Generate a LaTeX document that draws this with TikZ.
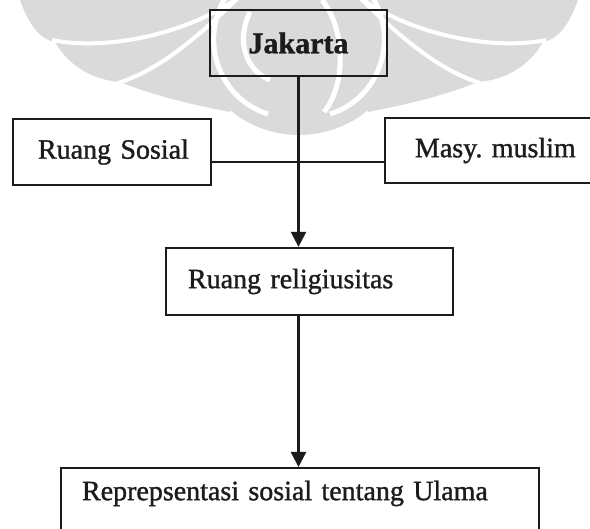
\documentclass[tikz,border=0pt]{standalone}
\usepackage{fontspec}
\setmainfont{Liberation Serif}[WordSpace=0.75, FakeBold=1.2]
\usetikzlibrary{arrows.meta}
\definecolor{wmgray}{RGB}{218,218,218}
\definecolor{ink}{RGB}{28,28,28}
\frenchspacing

% one wing of the faint emblem in the background
\newcommand\makarawing{%
  \fill[wmgray] (20,0) .. controls (30,28) and (42,40) .. (55,42)
    .. controls (70,68) and (95,80) .. (120,82)
    .. controls (160,98) and (200,106) .. (230,112) -- (245,0) -- cycle;
  \draw[white, line width=4pt] (52,40) .. controls (100,50) and (180,38) .. (238,-2);
  \draw[white, line width=4pt] (118,83) .. controls (160,70) and (200,35) .. (238,-2);
  \draw[white, line width=5pt] (225,-2) .. controls (198,45) and (222,100) .. (268,114);
}

\begin{document}
\begin{tikzpicture}[x=1pt,y=-1pt,
  box/.style={draw=ink, line width=2.3pt, rectangle, inner sep=0pt, align=left,
    text=ink, font=\fontsize{28}{34}\selectfont},
  link/.style={draw=ink, line width=2.4pt},
  arrowlink/.style={link, -{Triangle[length=15pt,width=15pt]}}]
\useasboundingbox (0,0) rectangle (590,529);
\clip (0,0) rectangle (590,529);
\fill[white] (0,0) rectangle (590,529);

% background emblem
\fill[wmgray] (299,27) circle[radius=108pt];
\makarawing
\begin{scope}[xshift=598pt, xscale=-1]
  \makarawing
\end{scope}
\draw[white, line width=5pt] (250,12) .. controls (236,40) and (245,70) .. (270,80);
\draw[white, line width=5pt] (322,0) .. controls (346,30) and (346,85) .. (324,112);

% boxes
\node[box, minimum width=177pt, minimum height=66pt, text width=177pt, align=center,
      font=\fontsize{30}{36}\selectfont\bfseries] (jak) at (298.5,43) {Jakarta};
\node[box, minimum width=198pt, minimum height=66pt, text width=198pt] (sos) at (112,152)
  {\hspace*{25pt}Ruang Sosial};
\node[box, minimum width=235pt, minimum height=65pt, text width=235pt] (masy) at (502.5,150.5)
  {\hspace*{30pt}Masy. muslim};
\node[box, minimum width=287pt, minimum height=67pt, text width=287pt] (rel) at (309.5,281.5)
  {\hspace*{22pt}Ruang religiusitas};
\node[box, anchor=north, text width=478pt, text height=32pt, text depth=70pt] (rep) at (300,467)
  {\hspace*{21pt}Reprepsentasi sosial tentang Ulama};

% connectors
\draw[arrowlink] (jak.south) -- (jak.south |- rel.north);
\draw[link] (sos.east |- 0,162) -- (masy.west |- 0,162);
\draw[arrowlink] (rel.south -| jak.south) -- (rep.north -| jak.south);
\end{tikzpicture}
\end{document}
